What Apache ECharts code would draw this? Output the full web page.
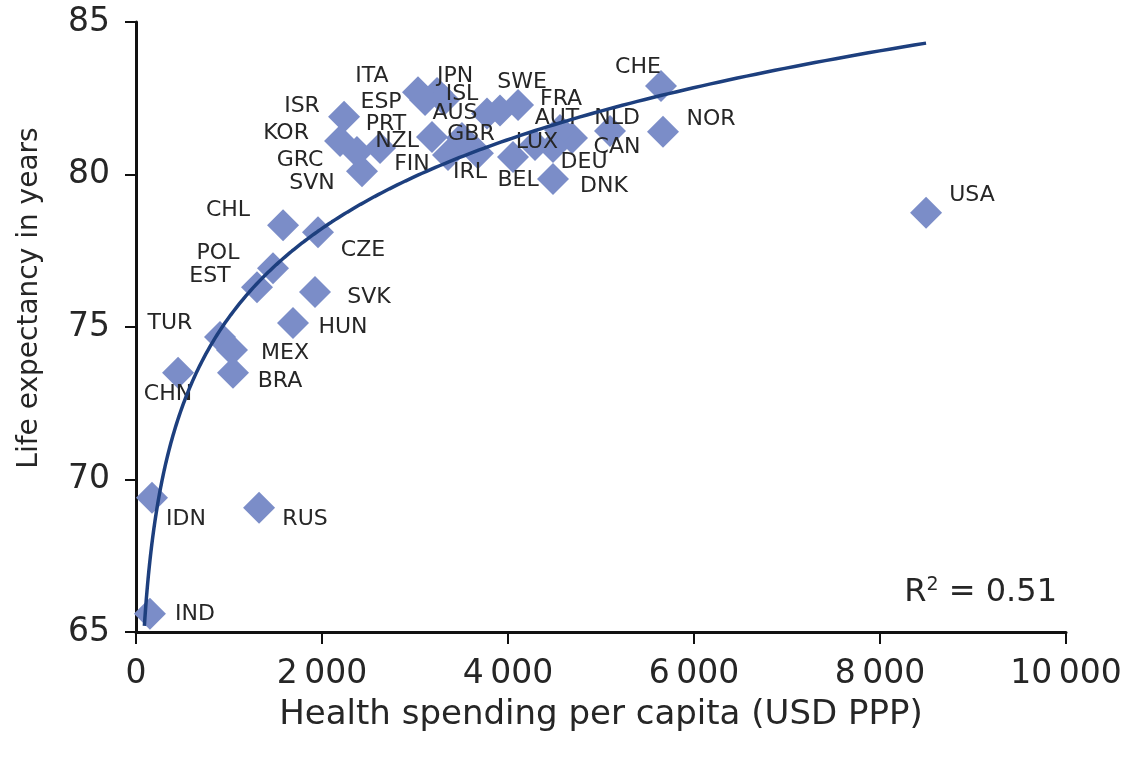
<!DOCTYPE html>
<html>
<head>
<meta charset="utf-8">
<script src="https://cdn.jsdelivr.net/npm/echarts@6/dist/echarts.min.js"></script>
<style>
  html, body { margin: 0; padding: 0; background: #fff; }
  #chart { width: 1129px; height: 761px; }
</style>
</head>
<body>
<div id="chart"></div>
<script>
// Country codes, health spending per capita (USD PPP) and life expectancy (years)
const countries = ['USA','NOR','CHE','NLD','CAN','AUT','DEU','LUX','DNK','BEL','FRA','SWE','AUS','IRL','GBR','FIN','NZL','ISL','JPN','ITA','ESP','PRT','GRC','SVN','ISR','KOR','CHL','CZE','POL','EST','SVK','TUR','HUN','MEX','BRA','CHN','IDN','RUS','IND'];
const spending  = [8495,5667,5645,5097,4688,4559,4484,4290,4484,4054,4108,3914,3774,3677,3505,3355,3183,3312,3237,3032,3108,2624,2376,2430,2237,2194,1581,1957,1473,1301,1925,903,1688,1032,1043,452,172,1323,150];
const lifeExp   = [78.75,81.4,82.9,81.43,81.2,81.46,80.9,80.97,79.85,80.57,82.28,82.1,82.0,80.7,81.2,80.64,81.23,82.44,82.67,82.7,82.44,80.87,80.74,80.11,81.89,81.1,78.34,78.11,76.93,76.3,76.15,74.67,75.13,74.25,73.5,73.5,69.4,69.07,65.6];

// Axis ticks
const xTicks = { min: 0, max: 10000, step: 2000 };
const yTicks = { min: 65, max: 85, step: 5 };

// Where each country code sits relative to its marker (pixels, label centre)
const labelOffset = {
  USA:[46,-17], NOR:[48,-13], CHE:[-23,-19], NLD:[7,-13], CAN:[45,9], AUT:[-3,-12],
  DEU:[31,15], LUX:[2,-3], DNK:[51,7], BEL:[5,23], FRA:[43,-6], SWE:[22,-28],
  AUS:[-32,0], IRL:[-8,19], GBR:[9,-4], FIN:[-36,9], NZL:[-35,4], ISL:[18,-6],
  JPN:[18,-17], ITA:[-46,-16], ESP:[-44,2], PRT:[6,-24], GRC:[-57,8], SVN:[-50,12],
  ISR:[-42,-11], KOR:[-54,-8], CHL:[-55,-15], CZE:[45,18], POL:[-55,-15], EST:[-47,-11],
  SVK:[54,5], TUR:[-50,-14], HUN:[50,4], MEX:[53,3], BRA:[47,9], CHN:[-10,22],
  IDN:[34,21], RUS:[46,11], IND:[45,1]
};

// Logarithmic least-squares fit: lifeExp = a + b * ln(spending)
function logFit(xs, ys) {
  const n = xs.length;
  const lx = xs.map(Math.log);
  const mx = lx.reduce((s, v) => s + v, 0) / n;
  const my = ys.reduce((s, v) => s + v, 0) / n;
  let sxy = 0, sxx = 0, syy = 0;
  for (let i = 0; i < n; i++) {
    sxy += (lx[i] - mx) * (ys[i] - my);
    sxx += (lx[i] - mx) * (lx[i] - mx);
    syy += (ys[i] - my) * (ys[i] - my);
  }
  const b = sxy / sxx;
  return { a: my - b * mx, b: b, r2: (sxy * sxy) / (sxx * syy) };
}
const fit = logFit(spending, lifeExp);
const fitStart = 90;
const fitEnd = Math.max.apply(null, spending);
const trend = [];
for (let i = 0; i <= 300; i++) {
  const x = fitStart * Math.pow(fitEnd / fitStart, i / 300);
  trend.push([x, fit.a + fit.b * Math.log(x)]);
}

const FONT = '"DejaVu Sans", Verdana, sans-serif';
const TEXT = '#262626';
const points = countries.map((c, i) => ({
  name: c,
  value: [spending[i], lifeExp[i]],
  label: { offset: labelOffset[c] || [0, 0] }
}));

const chart = echarts.init(document.getElementById('chart'), null, { renderer: 'canvas' });
chart.setOption({
  animation: false,
  backgroundColor: '#ffffff',
  grid: { left: 136, right: 63, top: 22, bottom: 129, containLabel: false },
  xAxis: {
    type: 'value',
    min: xTicks.min, max: xTicks.max, interval: xTicks.step,
    name: 'Health spending per capita (USD PPP)',
    nameLocation: 'middle', nameGap: 66,
    nameTextStyle: { fontFamily: FONT, fontSize: 34, color: TEXT },
    axisLine: { lineStyle: { color: '#111', width: 3 } },
    axisTick: { show: true, length: 12, lineStyle: { color: '#111', width: 2 } },
    axisLabel: {
      fontFamily: FONT, fontSize: 33, color: TEXT, margin: 26,
      formatter: v => String(v).replace(/\B(?=(\d{3})+(?!\d))/g, '\u2009')
    },
    splitLine: { show: false }
  },
  yAxis: {
    type: 'value',
    min: yTicks.min, max: yTicks.max, interval: yTicks.step,
    name: 'Life expectancy in years',
    nameLocation: 'middle', nameGap: 92,
    nameTextStyle: { fontFamily: FONT, fontSize: 28, color: TEXT, padding: [0, 0, 0, 58] },
    axisLine: { lineStyle: { color: '#111', width: 3 } },
    axisTick: { show: true, length: 11, lineStyle: { color: '#111', width: 2 } },
    axisLabel: { fontFamily: FONT, fontSize: 33, color: TEXT, margin: 26 },
    splitLine: { show: false }
  },
  series: [
    {
      type: 'scatter',
      z: 2,
      symbol: 'diamond',
      symbolSize: 32,
      itemStyle: { color: '#7b8dc8', opacity: 1 },
      label: {
        show: true,
        position: 'inside',
        formatter: p => p.name,
        fontFamily: FONT, fontSize: 22, color: TEXT,
        align: 'center', verticalAlign: 'middle'
      },
      emphasis: { disabled: true },
      data: points
    },
    {
      type: 'line',
      z: 3,
      data: trend,
      showSymbol: false,
      smooth: false,
      clip: true,
      lineStyle: { color: '#1d3f7e', width: 3.5 },
      silent: true
    }
  ],
  graphic: [{
    type: 'text',
    right: 72, top: 576,
    style: {
      text: '{r|R}{s|2}{r| = 0.51}',
      rich: {
        r: { fontFamily: FONT, fontSize: 32, fill: TEXT },
        s: { fontFamily: FONT, fontSize: 19, fill: TEXT, verticalAlign: 'top', padding: [0, 0, 14, 0] }
      }
    }
  }]
});
</script>
</body>
</html>
